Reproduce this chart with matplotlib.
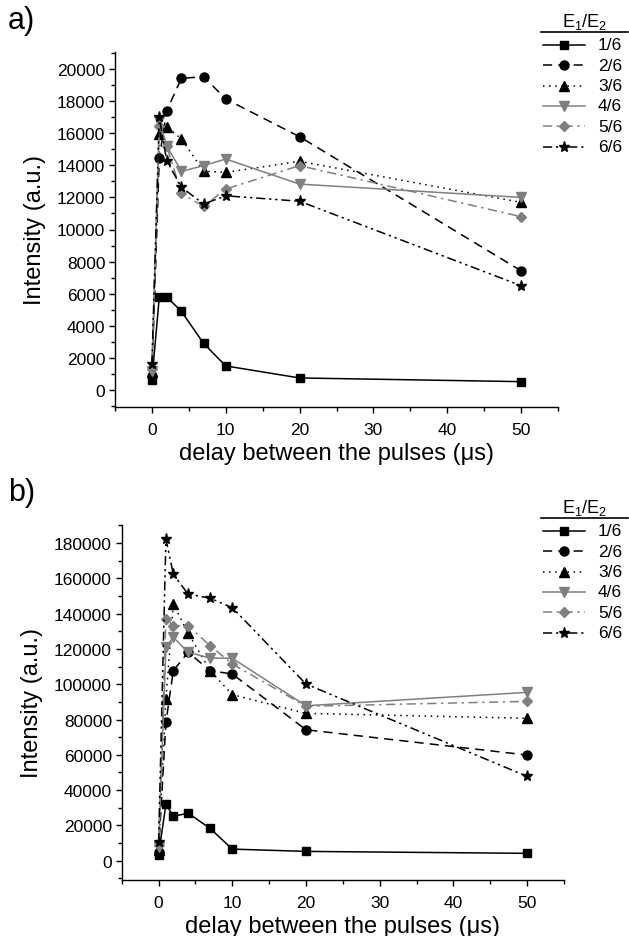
import matplotlib
matplotlib.use("Agg")
import matplotlib.pyplot as plt
from matplotlib.lines import Line2D
from matplotlib.ticker import MultipleLocator

plt.rcParams['font.family'] = ['Liberation Sans', 'DejaVu Sans']

delay = [0, 1, 2, 4, 7, 10, 20, 50]
series_labels = ["1/6", "2/6", "3/6", "4/6", "5/6", "6/6"]

# panel a) intensities (a.u.)
a_16 = [600, 5800, 5800, 4900, 2900, 1500, 750, 520]
a_26 = [900, 14450, 17400, 19420, 19520, 18130, 15780, 7430]
a_36 = [1100, 15950, 16400, 15640, 13630, 13560, 14250, 11690]
a_46 = [1200, 16780, 15220, 13620, 13980, 14390, 12830, 12000]
a_56 = [1300, 16470, 15220, 12250, 11440, 12520, 13980, 10800]
a_66 = [1600, 16990, 14290, 12630, 11590, 12100, 11760, 6500]

# panel b) intensities (a.u.)
b_16 = [3200, 32100, 25100, 27000, 18300, 6600, 5300, 4200]
b_26 = [5000, 78400, 107700, 118100, 107700, 105800, 74200, 59900]
b_36 = [6000, 91600, 145400, 129000, 107700, 94100, 83500, 80700]
b_46 = [8000, 120900, 126600, 118100, 114800, 114700, 87800, 95400]
b_56 = [9000, 137000, 133200, 133200, 121800, 111500, 87500, 90300]
b_66 = [10400, 182300, 162300, 151100, 148700, 143400, 100100, 47800]

GRAY = '#7f7f7f'
styles = [
    dict(color='black', ls='-', marker='s', mfc='black'),
    dict(color='black', ls=(0, (6, 4)), marker='o', mfc='black'),
    dict(color='black', ls=(0, (1, 3)), marker='^', mfc='black'),
    dict(color=GRAY, ls='-', marker='v', mfc=GRAY),
    dict(color=GRAY, ls=(0, (6, 3, 1.5, 3)), marker='D', mfc=GRAY),
    dict(color='black', ls=(0, (6, 2.5, 1.5, 2.5, 1.5, 2.5)), marker='*', mfc='black'),
]
msizes = [5.5, 6.5, 6.5, 6.5, 5.5, 8.0]

W, H = 629, 937
fig = plt.figure(figsize=(W / 100, H / 100), dpi=100)


def fx(px):
    return px / W


def fy(py):
    return 1 - py / H


TICK_FS = 12.5
LAB_FS = 17


def make_panel(rect, data, ylim, ymajor, yminor, tag, tagpos, legy):
    ax = fig.add_axes(rect)
    for vals, st, ms in zip(data, styles, msizes):
        ax.plot(delay, vals, color=st['color'], ls=st['ls'], lw=1.1,
                marker=st['marker'], ms=ms, mfc=st['mfc'], mec=st['mfc'])
    ax.set_xlim(-5, 55)
    ax.set_ylim(*ylim)
    ax.xaxis.set_major_locator(MultipleLocator(10))
    ax.xaxis.set_minor_locator(MultipleLocator(5))
    ax.yaxis.set_major_locator(MultipleLocator(ymajor))
    ax.yaxis.set_minor_locator(MultipleLocator(yminor))
    ax.spines['top'].set_visible(False)
    ax.spines['right'].set_visible(False)
    for s in ('left', 'bottom'):
        ax.spines[s].set_linewidth(1.0)
    ax.tick_params(which='major', direction='out', length=4, width=1.0,
                   labelsize=TICK_FS)
    ax.tick_params(which='minor', direction='out', length=3, width=1.0)
    ax.tick_params(axis='x', which='major', pad=6.5)
    ax.tick_params(axis='y', which='major', pad=3)
    ax.set_xlabel('delay between the pulses (\u03bcs)', fontsize=LAB_FS, labelpad=4)
    ax.set_ylabel('Intensity (a.u.)', fontsize=LAB_FS, labelpad=8)
    fig.text(fx(tagpos[0]), fy(tagpos[1]), tag, fontsize=22, ha='left', va='center')

    # legend (drawn manually)
    hx0, hx1, tx = 543, 585, 598
    fig.text(fx(585), fy(legy - 18), r'$\mathregular{E_1/E_2}$', fontsize=13,
             ha='center', va='center')
    fig.add_artist(Line2D([fx(541), fx(628)], [fy(legy - 7), fy(legy - 7)],
                          color='black', lw=1.2))
    for i, (lab, st, ms) in enumerate(zip(series_labels, styles, msizes)):
        yy = legy + 6 + i * 20.3
        fig.add_artist(Line2D([fx(hx0), fx(hx1)], [fy(yy), fy(yy)],
                              color=st['color'], ls=st['ls'], lw=1.1))
        fig.add_artist(Line2D([fx((hx0 + hx1) / 2)], [fy(yy)], color=st['color'],
                              marker=st['marker'], ms=ms, mfc=st['mfc'],
                              mec=st['mfc'], ls='none'))
        fig.text(fx(tx), fy(yy), lab, fontsize=12.5, ha='left', va='center')
    return ax


axa = make_panel([fx(115), fy(408), fx(558 - 115), (408 - 53) / H],
                 [a_16, a_26, a_36, a_46, a_56, a_66],
                 (-1060, 21060), 2000, 1000, 'a)', (8, 21), 40)
axb = make_panel([fx(121.7), fy(881), fx(564 - 121.7), (881 - 526) / H],
                 [b_16, b_26, b_36, b_46, b_56, b_66],
                 (-10900, 190200), 20000, 10000, 'b)', (8, 493), 526)

fig.savefig('out.png', dpi=100)
